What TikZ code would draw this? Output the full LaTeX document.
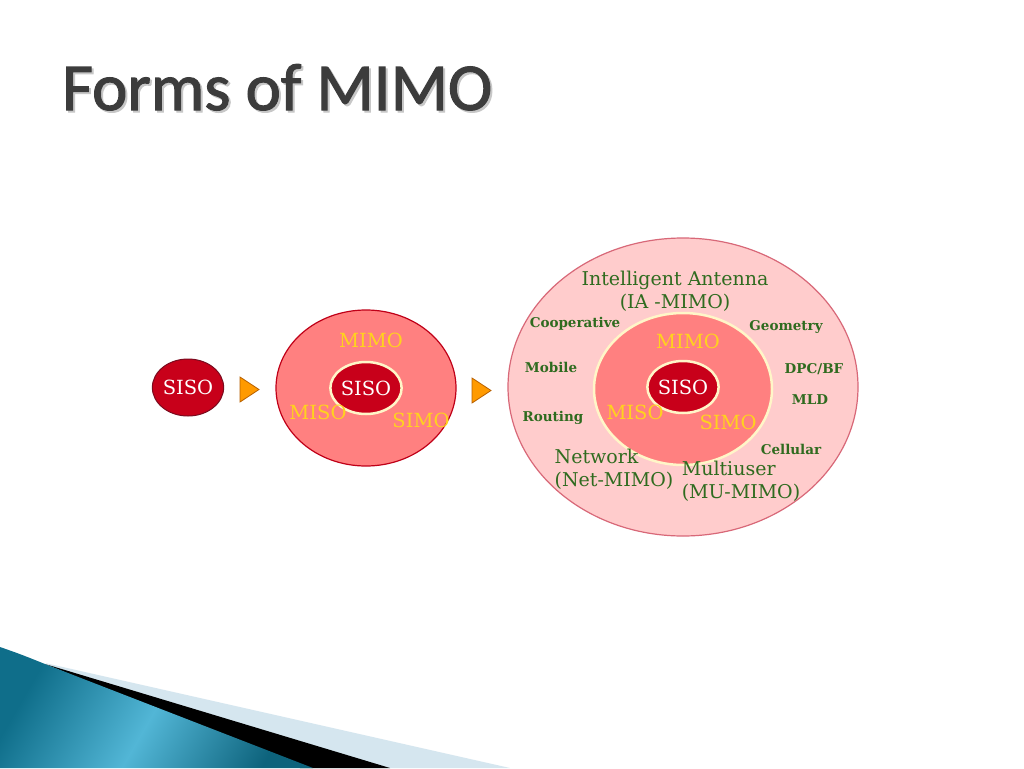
\documentclass[tikz,border=0pt]{standalone}
\usepackage{fontspec}
\setmainfont{DejaVu Serif}
\newfontfamily\titlefont[FakeBold=1.6]{Carlito}
\usetikzlibrary{shapes.geometric}
\definecolor{darkred}{HTML}{C8001A}
\definecolor{darkredline}{HTML}{7A0A1E}
\definecolor{salmon}{HTML}{FF8080}
\definecolor{salmonline}{HTML}{C00018}
\definecolor{lightpink}{HTML}{FFCCCC}
\definecolor{lightpinkline}{HTML}{D86878}
\definecolor{cream}{HTML}{FFF6C8}
\definecolor{goldtext}{HTML}{FFD21E}
\definecolor{greentext}{HTML}{2F6B1F}
\definecolor{arroworange}{HTML}{FF9A00}
\definecolor{arrowline}{HTML}{B86000}
\definecolor{titlegrey}{HTML}{3C3C3C}
\definecolor{tealdark}{HTML}{0F6E8A}
\definecolor{teallight}{HTML}{52B6D6}
\definecolor{paleblue}{HTML}{D5E6EF}
\tikzset{
  sisoblob/.style={ellipse, fill=darkred, inner sep=0pt, text=white, font=\fontsize{19.5}{19.5}\selectfont},
  gold/.style={text=goldtext, font=\fontsize{19.5}{19.5}\selectfont, inner sep=0pt},
  bigtag/.style={text=greentext, font=\fontsize{19}{23}\selectfont, inner sep=0pt, align=center},
  smalltag/.style={text=greentext, font=\bfseries\fontsize{13.5}{14}\selectfont, inner sep=0pt},
  pointer/.style={fill=arroworange, draw=arrowline, line width=0.8pt, line join=miter},
}
\begin{document}
\begin{tikzpicture}[x=1pt,y=-1pt]
\useasboundingbox (0,0) rectangle (1024,768);
\fill[white] (0,0) rectangle (1024,768);

% title
\node[anchor=base west, inner sep=0pt, text=black!22, font=\titlefont\fontsize{67}{67}\selectfont] (titleshadow) at (64,112) {Forms of MIMO};
\node[anchor=base west, inner sep=0pt, text=titlegrey, font=\titlefont\fontsize{67}{67}\selectfont] (title) at (62,110) {Forms of MIMO};

% bottom swoosh
\fill[paleblue] (45,663) -- (510,768) -- (300,768) -- cycle;
\fill[black] (45,664) -- (390,768) -- (300,768) -- cycle;
\shade[left color=tealdark, right color=tealdark!90!black, middle color=teallight, shading angle=60]
  (0,647) .. controls (20,654) .. (50,666) -- (313,768) -- (0,768) -- cycle;

% stage 1: SISO
\node[sisoblob, draw=darkredline, line width=1pt, minimum width=70pt, minimum height=57pt] (siso1) at (188,387.5) {SISO};

% arrow 1
\coordinate (a1) at (240,377);
\filldraw[pointer] (a1) -- ++(0,25) -- ++(19,-12.5) -- cycle;

% stage 2
\node[ellipse, fill=salmon, draw=salmonline, line width=1.2pt, minimum width=180pt, minimum height=156pt, inner sep=0pt] (mid2) at (366,388) {};
\node[sisoblob, draw=cream, line width=2.5pt, minimum width=68pt, minimum height=52pt] (siso2) at (366,388) {SISO};
\node[gold] (mimo2) at (371,340) {MIMO};
\node[gold] (miso2) at (318,412) {MISO};
\node[gold] (simo2) at (421,420) {SIMO};

% arrow 2
\coordinate (a2) at (472,378);
\filldraw[pointer] (a2) -- ++(0,25) -- ++(19,-12.5) -- cycle;

% stage 3
\node[ellipse, fill=lightpink, draw=lightpinkline, line width=1.2pt, minimum width=350pt, minimum height=298pt, inner sep=0pt] (big3) at (683,387) {};
\node[ellipse, fill=salmon, draw=cream, line width=2.5pt, minimum width=178pt, minimum height=152pt, inner sep=0pt] (mid3) at (683,389) {};
\node[sisoblob, draw=cream, line width=2.5pt, minimum width=68pt, minimum height=52pt] (siso3) at (683,387) {SISO};
\node[gold] (mimo3) at (688,341) {MIMO};
\node[gold] (miso3) at (635,412) {MISO};
\node[gold] (simo3) at (728,422) {SIMO};

\node[bigtag] (ia) at (675,291) {Intelligent Antenna\\(IA -MIMO)};
\node[bigtag, align=left] (net) at (614,469) {Network\\(Net-MIMO)};
\node[bigtag, align=left] (mu) at (741,481) {Multiuser\\(MU-MIMO)};

\node[smalltag] (coop) at (575,324) {Cooperative};
\node[smalltag] (geo) at (786,327) {Geometry};
\node[smalltag] (mob) at (551,367) {Mobile};
\node[smalltag] (dpc) at (814,369) {DPC/BF};
\node[smalltag] (mld) at (810,400) {MLD};
\node[smalltag] (rout) at (553,418) {Routing};
\node[smalltag] (cell) at (791,449) {Cellular};
\end{tikzpicture}
\end{document}
